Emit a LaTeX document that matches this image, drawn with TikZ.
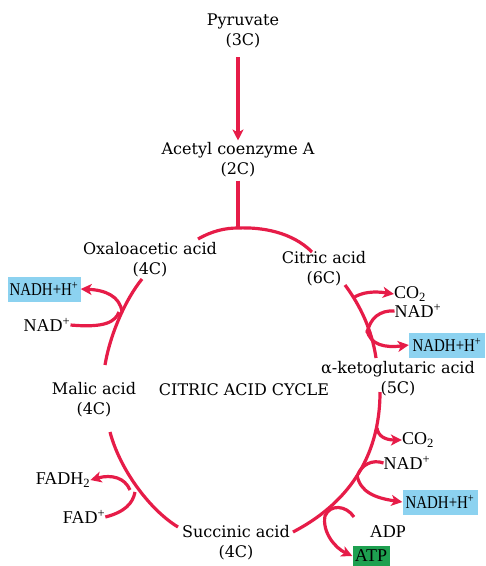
\documentclass[tikz,border=0pt]{standalone}
\usepackage{fontspec}
\setmainfont{DejaVu Serif}
\newfontfamily\sidefont{Liberation Serif}
\newfontfamily\boxfont{Liberation Serif}[FakeStretch=0.83]
\usetikzlibrary{arrows.meta}
\definecolor{cycred}{RGB}{230,28,72}
\definecolor{nadblue}{RGB}{140,210,240}
\definecolor{atpgreen}{RGB}{30,160,80}
\begin{document}
\begin{tikzpicture}[x=1pt,y=-1pt,
  lbl/.style={font=\fontsize{16}{20}\selectfont, align=center, inner sep=0pt},
  side/.style={font=\sidefont\fontsize{18}{20}\selectfont, inner sep=0pt},
  flow/.style={draw=cycred, line width=3.2pt},
  arr/.style={flow, -{Stealth[length=11pt,width=11pt,inset=3pt]}},
  nadh/.style={fill=nadblue, font=\boxfont\fontsize{18}{20}\selectfont, minimum height=25pt, inner sep=0pt},
  atp/.style={fill=atpgreen, font=\sidefont\fontsize{18}{20}\selectfont, minimum width=37pt, minimum height=21pt, inner sep=0pt}]
\useasboundingbox (0,0) rectangle (486,566);
% main labels
\node[lbl] (pyr) at (243,31) {Pyruvate\\(3C)};
\node[lbl] (acetyl) at (238,160) {Acetyl coenzyme A\\(2C)};
\node[lbl] (oxa) at (150,260) {Oxaloacetic acid\\(4C)};
\node[lbl] (cit) at (324,269) {Citric acid\\(6C)};
\node[lbl] (akg) at (398,379) {α-ketoglutaric acid\\(5C)};
\node[lbl] (mal) at (94,400) {Malic acid\\(4C)};
\node[lbl] (cycle) at (244,390) {CITRIC ACID CYCLE};
\node[lbl] (suc) at (236,543) {Succinic acid\\(4C)};
% side labels
\node[side] (co2a) at (410,294) {CO\textsubscript{2}};
\node[side] (nada) at (418,311) {NAD\textsuperscript{+}};
\node[nadh, minimum width=76pt] (nadha) at (447,345) {NADH+H\textsuperscript{+}};
\node[side] (co2b) at (418,440) {CO\textsubscript{2}};
\node[side] (nadb) at (407,463) {NAD\textsuperscript{+}};
\node[nadh, minimum width=75pt] (nadhb) at (440,502) {NADH+H\textsuperscript{+}};
\node[side] (adp) at (388,532) {ADP};
\node[atp] (atp) at (371,556) {ATP};
\node[side] (fadh) at (63,480) {FADH\textsubscript{2}};
\node[side] (fad) at (84,517) {FAD\textsuperscript{+}};
\node[nadh, minimum width=73pt] (nadhc) at (44,289) {NADH+H\textsuperscript{+}};
\node[side] (nadc) at (47,325) {NAD\textsuperscript{+}};
% coordinates on the cycle
\coordinate (top) at (238,228);
\coordinate (oxaR) at (198,239);
\coordinate (citL) at (312,252);
\coordinate (citB) at (345,285);
\coordinate (akgT) at (376,358);
\coordinate (akgB) at (380,392);
\coordinate (sucR) at (293,532);
\coordinate (sucL) at (178,527);
\coordinate (malB) at (110,432);
\coordinate (malT) at (105,365);
\coordinate (oxaB) at (142,279);
% pyruvate to acetyl
\draw[arr] ([yshift=-9pt]pyr.south -| acetyl.north) -- ([yshift=2pt]acetyl.north);
\draw[flow] ([yshift=-3pt]acetyl.south) -- (top);
% cycle arcs
\draw[flow] (oxaR) .. controls (212,231) and (225,228) .. (top) .. controls (262,227) and (292,232) .. (citL);
\draw[flow] (citB) .. controls (360,305) and (372,330) .. (akgT);
\draw[flow] (akgB) .. controls (380,460) and (345,505) .. (sucR);
\draw[flow] (sucL) .. controls (150,510) and (120,470) .. (malB);
\draw[flow] (malT) .. controls (110,335) and (125,300) .. (oxaB);
% branches citric -> akg
\draw[arr] (353,298) .. controls (362,292) and (374,291) .. (co2a.west);
\draw[flow] (nada.west) .. controls (380,310) and (370,318) .. (367,333);
\draw[arr] (367,330) .. controls (370,345) and (385,348) .. (nadha.west);
% branches akg -> succinic
\draw[arr] (377,428) .. controls (378,436) and (385,440) .. (co2b.west);
\draw[flow] (nadb.west) .. controls (372,459) and (362,465) .. (358,474);
\draw[arr] (357,475) .. controls (360,492) and (375,498) .. (nadhb.west);
\draw[arr] (354,517) .. controls (346,505) and (330,504) .. (325,516) .. controls (322,532) and (335,548) .. (atp.west);
% branches succinic -> malic
\draw[arr] (130,490) .. controls (125,478) and (112,474) .. (fadh.east);
\draw[flow] (fad.east) .. controls (125,512) and (133,503) .. (135,492);
% branches malic -> oxaloacetic
\draw[arr] (122,312) .. controls (120,296) and (105,290) .. (nadhc.east);
\draw[flow] (nadc.east) .. controls (105,328) and (115,322) .. (119,312);
\end{tikzpicture}
\end{document}
